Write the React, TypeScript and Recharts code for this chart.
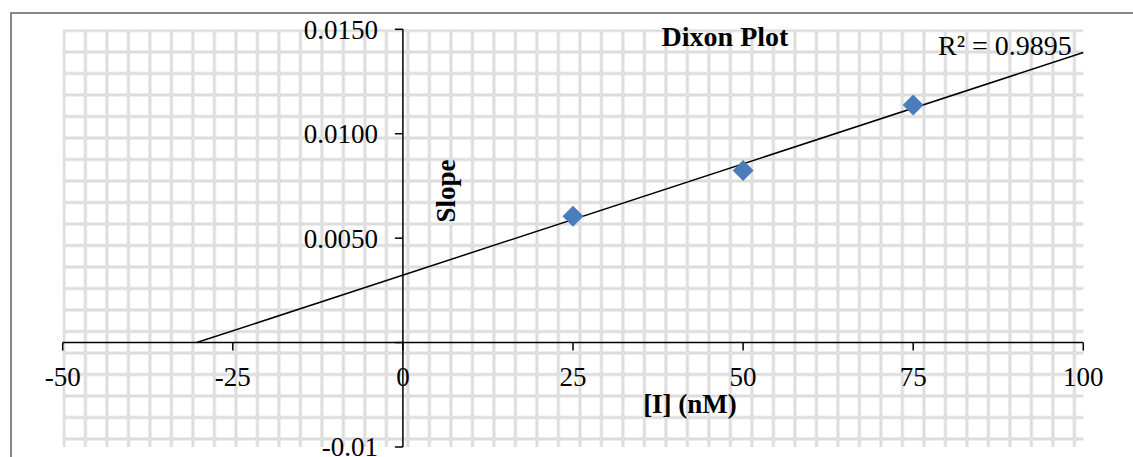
import {
  CartesianGrid,
  ComposedChart,
  Line,
  ReferenceLine,
  Scatter,
  XAxis,
  YAxis,
} from 'recharts'

// [I] (nM) vs slope
const concentrations = [25, 50, 75]
const slopes = [0.00605, 0.00824, 0.01138]

// Excel linear trendline, drawn from where it meets the x axis to x = 100
const trendX = [-30.3, 100]
const trendY = [0, 0.01389]
const rSquared = '0.9895'

const xTicks = [-50, -25, 0, 25, 50, 75, 100]
const xTickLabels = ['-50', '-25', '0', '25', '50', '75', '100']
const yTicks = [-0.005, 0, 0.005, 0.01, 0.015]
const yTickLabels = ['-0.01', '', '0.0050', '0.0100', '0.0150']

const points = concentrations.map((x, i) => ({ x, y: slopes[i] }))
const trend = trendX.map((x, i) => ({ x, y: trendY[i] }))
const xTickData = xTicks.map((x, i) => ({ x, y: 0, label: xTickLabels[i] }))
const yTickData = yTicks.map((y, i) => ({ x: 0, y, label: yTickLabels[i] }))

const SERIF = "'Liberation Serif', 'Times New Roman', serif"
const CELL = 21.5

function Diamond(props: any) {
  const { cx, cy } = props
  const r = 10.5
  return (
    <polygon
      points={`${cx},${cy - r} ${cx + r},${cy} ${cx},${cy + r} ${cx - r},${cy}`}
      fill="#4a7ebb"
    />
  )
}

function XTick(props: any) {
  const { cx, cy, payload } = props
  return (
    <g>
      <line x1={cx} y1={cy} x2={cx} y2={cy + 8} stroke="#000" strokeWidth={1.5} />
      <text x={cx} y={cy + 43} textAnchor="middle" fontSize={27} fontFamily={SERIF} fill="#000">
        {payload.label}
      </text>
    </g>
  )
}

function YTick(props: any) {
  const { cx, cy, payload } = props
  return (
    <g>
      <line x1={cx - 8} y1={cy} x2={cx} y2={cy} stroke="#000" strokeWidth={1.5} />
      <text
        x={cx - 25}
        y={cy}
        dy="0.35em"
        textAnchor="end"
        fontSize={27}
        fontFamily={SERIF}
        fill="#000"
      >
        {payload.label}
      </text>
    </g>
  )
}

export default function App() {
  return (
    <div
      style={{
        position: 'absolute',
        left: 0,
        top: 0,
        width: 1133,
        height: 457,
        overflow: 'hidden',
        background: '#fff',
      }}
    >
      <div
        style={{
          position: 'absolute',
          left: 10,
          top: 12,
          width: 1200,
          height: 600,
          borderLeft: '2px solid #878787',
          borderTop: '2px solid #878787',
        }}
      />
      <svg width={0} height={0} style={{ position: 'absolute' }}>
        <defs>
          <pattern
            id="excelGrid"
            patternUnits="userSpaceOnUse"
            width={CELL}
            height={CELL}
            x={63.9 - CELL / 2}
            y={30.5 - CELL / 2}
          >
            <rect width={CELL} height={CELL} fill="#fff" />
            <line x1={CELL / 2} y1={0} x2={CELL / 2} y2={CELL} stroke="#cbcbcb" strokeWidth={2.6} />
            <line x1={0} y1={CELL / 2} x2={CELL} y2={CELL / 2} stroke="#cbcbcb" strokeWidth={2.6} />
            <line x1={CELL / 2} y1={0} x2={CELL / 2} y2={CELL} stroke="#f0f0f0" strokeWidth={0.9} />
            <line x1={0} y1={CELL / 2} x2={CELL} y2={CELL / 2} stroke="#f0f0f0" strokeWidth={0.9} />
          </pattern>
        </defs>
      </svg>
      <div style={{ position: 'absolute', left: 0, top: 0 }}>
        <ComposedChart
          width={1133}
          height={457}
          margin={{ top: 29.3, right: 49.7, bottom: 10, left: 62.7 }}
        >
          <CartesianGrid horizontal={false} vertical={false} fill="url(#excelGrid)" stroke="none" />
          <XAxis dataKey="x" type="number" domain={[-50, 100]} ticks={xTicks} hide />
          <YAxis dataKey="y" type="number" domain={[-0.005, 0.015]} ticks={yTicks} hide />
          <ReferenceLine y={0} stroke="#000" strokeWidth={1.5} />
          <ReferenceLine x={0} stroke="#000" strokeWidth={1.5} />
          <Scatter data={xTickData} dataKey="y" shape={XTick} isAnimationActive={false} />
          <Scatter data={yTickData} dataKey="y" shape={YTick} isAnimationActive={false} />
          <Line
            data={trend}
            dataKey="y"
            stroke="#000"
            strokeWidth={1.5}
            dot={false}
            activeDot={false}
            isAnimationActive={false}
          />
          <Scatter data={points} dataKey="y" shape={Diamond} isAnimationActive={false} />
        </ComposedChart>
      </div>
      <svg
        width={1133}
        height={457}
        style={{ position: 'absolute', left: 0, top: 0, pointerEvents: 'none' }}
      >
        <text x={725} y={46} textAnchor="middle" fontSize={28} fontWeight="bold" fontFamily={SERIF}>
          Dixon Plot
        </text>
        <text x={938} y={55} fontSize={28} fontFamily={SERIF}>
          {`R² = ${rSquared}`}
        </text>
        <text
          x={455}
          y={191}
          transform="rotate(-90 455 191)"
          textAnchor="middle"
          fontSize={27}
          fontWeight="bold"
          fontFamily={SERIF}
        >
          Slope
        </text>
        <text x={690} y={413} textAnchor="middle" fontSize={27} fontWeight="bold" fontFamily={SERIF}>
          [I] (nM)
        </text>
      </svg>
    </div>
  )
}
